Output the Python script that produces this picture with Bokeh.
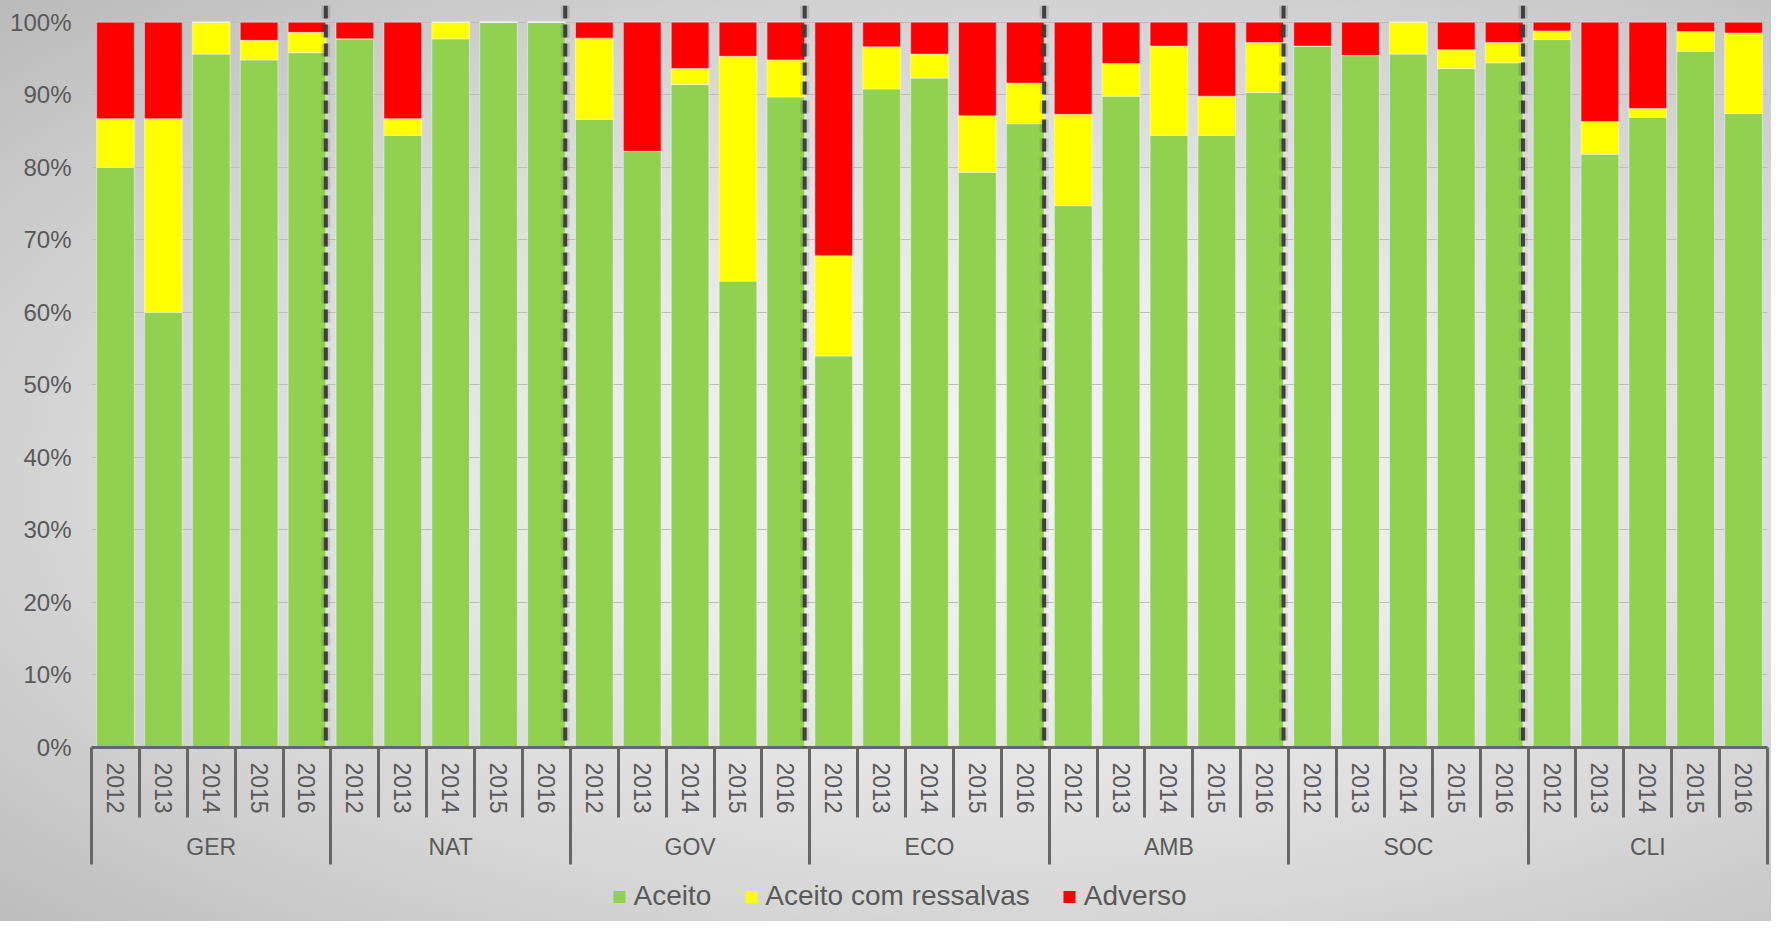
from bokeh.plotting import figure
from bokeh.layouts import column
from bokeh.models import (Range1d, LinearAxis, FixedTicker, PrintfTickFormatter,
                          Span, Legend, LegendItem)
from bokeh.embed import file_html
from bokeh.resources import INLINE

# ---------------- data ----------------
groups = ["GER", "NAT", "GOV", "ECO", "AMB", "SOC", "CLI"]
years = ["2012", "2013", "2014", "2015", "2016"]
series_names = ["Aceito", "Aceito com ressalvas", "Adverso"]
series_colors = ["#92d050", "#ffff00", "#ff0000"]

aceito = [80.0, 60.0, 95.6, 94.8, 95.8,
          97.7, 84.4, 97.7, 100.0, 100.0,
          86.6, 82.2, 91.4, 64.3, 89.7,
          54.0, 90.8, 92.3, 79.3, 86.0,
          74.7, 89.8, 84.4, 84.4, 90.3,
          96.7, 95.4, 95.6, 93.6, 94.4,
          97.6, 81.8, 86.9, 96.0, 87.4]
ressalvas = [6.7, 26.7, 4.4, 2.7, 2.8,
             0.0, 2.3, 2.3, 0.0, 0.0,
             11.2, 0.0, 2.2, 31.0, 5.1,
             13.8, 5.8, 3.3, 7.8, 5.6,
             12.6, 4.5, 12.3, 5.4, 6.9,
             0.0, 0.0, 4.4, 2.6, 2.8,
             1.2, 4.5, 1.2, 2.7, 11.1]
adverso = [13.3, 13.3, 0.0, 2.5, 1.4,
           2.3, 13.3, 0.0, 0.0, 0.0,
           2.2, 17.8, 6.4, 4.7, 5.2,
           32.2, 3.4, 4.4, 12.9, 8.4,
           12.7, 5.7, 3.3, 10.2, 2.8,
           3.3, 4.6, 0.0, 3.8, 2.8,
           1.2, 13.7, 11.9, 1.3, 1.5]

y_ticks = list(range(0, 101, 10))

# ---------------- derived positions ----------------
n_years = len(years)
n = len(groups) * n_years
x = [i + 0.5 for i in range(n)]
year_labels = [years[i % n_years] for i in range(n)]
bar_width = 0.787

TXT = "#595959"
FONT = "Liberation Sans"

p = figure(width=1771, height=871, output_backend="svg", toolbar_location=None,
           x_range=Range1d(0, n), y_range=Range1d(0, 102.3),
           x_axis_type=None, min_border_left=91, min_border_right=4,
           min_border_top=5, min_border_bottom=124,
           background_fill_color=None, border_fill_color=None,
           outline_line_color=None)
p.frame_align = False

data = dict(x=x, Aceito=aceito, Ressalvas=ressalvas, Adverso=adverso)
renderers = p.vbar_stack(["Aceito", "Ressalvas", "Adverso"], x="x", width=bar_width,
                         color=series_colors, source=data,
                         line_color="white", line_alpha=0.45, line_width=1)

# y axis
yt = FixedTicker(ticks=y_ticks)
p.yaxis.ticker = yt
p.yaxis.formatter = PrintfTickFormatter(format="%d%%")
p.yaxis.axis_line_color = None
p.yaxis.major_tick_line_color = None
p.yaxis.minor_tick_line_color = None
p.yaxis.major_tick_out = 0
p.yaxis.major_label_standoff = 20
p.yaxis.major_label_text_font = FONT
p.yaxis.major_label_text_font_size = "24px"
p.yaxis.major_label_text_color = TXT
p.ygrid.ticker = yt
p.ygrid.grid_line_color = "#bdbdbd"
p.ygrid.grid_line_width = 1

# x axis (years)
axA = LinearAxis(ticker=FixedTicker(ticks=x, minor_ticks=list(range(0, n + 1))),
                 major_label_overrides={xv: lab for xv, lab in zip(x, year_labels)},
                 major_label_orientation="vertical")
axA.axis_line_color = "#666666"
axA.axis_line_width = 3
axA.major_tick_line_color = None
axA.major_tick_out = 0
axA.major_tick_in = 0
axA.minor_tick_line_color = "#666666"
axA.minor_tick_line_width = 3
axA.minor_tick_out = 0
axA.minor_tick_in = -70
axA.major_label_standoff = 15
axA.major_label_text_font = FONT
axA.major_label_text_font_size = "23px"
axA.major_label_text_color = TXT
p.add_layout(axA, "below")

# x axis (groups)
gcent = [k * n_years + n_years / 2 for k in range(len(groups))]
axB = LinearAxis(ticker=FixedTicker(ticks=gcent,
                                    minor_ticks=list(range(0, n + 1, n_years))),
                 major_label_overrides={c: g for c, g in zip(gcent, groups)})
axB.axis_line_color = None
axB.major_tick_line_color = None
axB.major_tick_out = 0
axB.major_tick_in = 0
axB.minor_tick_line_color = "#666666"
axB.minor_tick_line_width = 3
axB.minor_tick_out = 0
axB.minor_tick_in = -48
axB.major_label_standoff = 17
axB.major_label_text_font = FONT
axB.major_label_text_font_size = "23px"
axB.major_label_text_color = TXT
p.add_layout(axB, "below")

# dashed group separators (at right edge of last bar of each group)
for k in range(1, len(groups)):
    loc = k * n_years - (1 - bar_width) / 2
    p.add_layout(Span(location=loc, dimension="height", line_color="#000000",
                      line_alpha=0.12, line_width=9, line_dash="13 6"))
    p.add_layout(Span(location=loc, dimension="height", line_color="#404040",
                      line_width=4, line_dash="13 6"))

# ---------------- legend strip ----------------
pl = figure(width=1771, height=50, output_backend="svg", toolbar_location=None,
            x_range=Range1d(0, 1), y_range=Range1d(0, 1),
            x_axis_type=None, y_axis_type=None,
            min_border_left=27, min_border_right=0, min_border_top=0,
            min_border_bottom=0, background_fill_color=None,
            border_fill_color=None, outline_line_color=None)
pl.frame_align = False
pl.xgrid.visible = False
pl.ygrid.visible = False
# zero-height key bars: they only supply the legend swatches
leg_renderers = [pl.vbar(x=[0.5], top=[0], bottom=[0], width=0.01,
                         fill_color=c, line_color=None)
                 for c in series_colors]
legend = Legend(items=[LegendItem(label=nm, renderers=[r])
                       for nm, r in zip(series_names, leg_renderers)],
                orientation="horizontal", location="center",
                label_text_font=FONT, label_text_font_size="28px",
                label_text_color=TXT, glyph_width=15, glyph_height=15,
                label_standoff=7, spacing=32, background_fill_alpha=0,
                border_line_color=None, padding=0, margin=0)
pl.add_layout(legend, "center")

layout = column(p, pl, spacing=0)
layout.styles = {"background": "radial-gradient(ellipse farthest-corner at 58% 52%, "
                               "#f3f3f3 0%, #ececec 30%, #d6d6d6 65%, #bababa 100%)"}

open("out.html", "w").write(file_html(layout, INLINE))
